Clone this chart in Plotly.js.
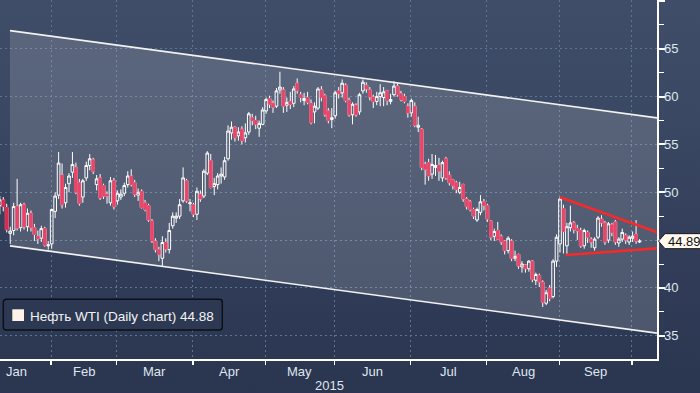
<!DOCTYPE html>
<html><head><meta charset="utf-8">
<script src="https://cdn.plot.ly/plotly-3.0.1.min.js"></script>
<style>
html,body{margin:0;padding:0;}
body{width:700px;height:393px;overflow:hidden;background:linear-gradient(to bottom,#404d68 0%,#3b4863 30%,#323e59 65%,#2a3550 100%);}
#chart{width:700px;height:393px;}
</style></head><body><div id="chart"></div>
<script>
// Trading days shown (index 4 = 8 Jan 2015 in the trading-day count of 2015)
const firstDayIndex = 4;
const dates = [
'2015-01-08','2015-01-09','2015-01-12','2015-01-13','2015-01-14','2015-01-15','2015-01-16','2015-01-20','2015-01-21','2015-01-22','2015-01-23','2015-01-26','2015-01-27','2015-01-28','2015-01-29','2015-01-30',
'2015-02-02','2015-02-03','2015-02-04','2015-02-05','2015-02-06','2015-02-09','2015-02-10','2015-02-11','2015-02-12','2015-02-13','2015-02-17','2015-02-18','2015-02-19','2015-02-20','2015-02-23','2015-02-24','2015-02-25','2015-02-26','2015-02-27',
'2015-03-02','2015-03-03','2015-03-04','2015-03-05','2015-03-06','2015-03-09','2015-03-10','2015-03-11','2015-03-12','2015-03-13','2015-03-16','2015-03-17','2015-03-18','2015-03-19','2015-03-20','2015-03-23','2015-03-24','2015-03-25','2015-03-26','2015-03-27','2015-03-30','2015-03-31',
'2015-04-01','2015-04-02','2015-04-06','2015-04-07','2015-04-08','2015-04-09','2015-04-10','2015-04-13','2015-04-14','2015-04-15','2015-04-16','2015-04-17','2015-04-20','2015-04-21','2015-04-22','2015-04-23','2015-04-24','2015-04-27','2015-04-28','2015-04-29','2015-04-30',
'2015-05-01','2015-05-04','2015-05-05','2015-05-06','2015-05-07','2015-05-08','2015-05-11','2015-05-12','2015-05-13','2015-05-14','2015-05-15','2015-05-18','2015-05-19','2015-05-20','2015-05-21','2015-05-22','2015-05-26','2015-05-27','2015-05-28','2015-05-29',
'2015-06-01','2015-06-02','2015-06-03','2015-06-04','2015-06-05','2015-06-08','2015-06-09','2015-06-10','2015-06-11','2015-06-12','2015-06-15','2015-06-16','2015-06-17','2015-06-18','2015-06-19','2015-06-22','2015-06-23','2015-06-24','2015-06-25','2015-06-26','2015-06-29','2015-06-30',
'2015-07-01','2015-07-02','2015-07-06','2015-07-07','2015-07-08','2015-07-09','2015-07-10','2015-07-13','2015-07-14','2015-07-15','2015-07-16','2015-07-17','2015-07-20','2015-07-21','2015-07-22','2015-07-23','2015-07-24','2015-07-27','2015-07-28','2015-07-29','2015-07-30','2015-07-31',
'2015-08-03','2015-08-04','2015-08-05','2015-08-06','2015-08-07','2015-08-10','2015-08-11','2015-08-12','2015-08-13','2015-08-14','2015-08-17','2015-08-18','2015-08-19','2015-08-20','2015-08-21','2015-08-24','2015-08-25','2015-08-26','2015-08-27','2015-08-28','2015-08-31',
'2015-09-01','2015-09-02','2015-09-03','2015-09-04','2015-09-08','2015-09-09','2015-09-10','2015-09-11','2015-09-14','2015-09-15','2015-09-16','2015-09-17','2015-09-18','2015-09-21','2015-09-22','2015-09-23','2015-09-24','2015-09-25','2015-09-28','2015-09-29','2015-09-30',
'2015-10-01','2015-10-02'];

const openP = [
48.6,49.2,48.4,45.7,46.0,48.5,46.3,48.7,46.4,47.8,46.3,45.4,45.2,46.2,44.4,44.6,
48.0,49.7,51.8,48.9,50.9,52.1,52.6,51.0,49.5,51.5,52.8,53.4,50.8,51.5,50.7,49.8,48.9,51.2,49.1,
49.5,49.9,50.8,51.7,51.0,49.7,50.1,48.9,48.6,47.0,44.9,44.0,43.1,44.75,44.0,46.5,47.3,47.5,49.1,51.2,48.8,48.7,
47.7,49.8,49.6,52.0,53.3,50.6,50.8,51.7,51.6,53.5,56.2,56.8,55.9,56.6,55.7,56.3,57.8,57.5,56.7,57.1,58.5,
59.8,59.3,59.0,60.7,60.7,59.1,59.5,59.3,61.4,60.2,59.6,59.9,59.3,58.4,58.8,60.7,60.1,58.5,57.6,58.0,
60.6,60.4,61.2,59.6,58.1,59.1,58.4,60.6,61.2,60.7,59.95,59.5,60.0,59.9,60.6,59.5,60.2,61.1,60.3,60.0,59.0,58.3,
59.0,56.8,56.6,52.9,53.1,51.9,52.6,52.8,51.5,53.5,51.8,51.3,51.0,50.0,50.8,49.3,49.0,48.2,47.1,47.9,49.0,48.6,
47.0,45.4,46.0,45.4,44.9,43.9,44.9,43.1,43.5,42.2,42.4,42.0,42.8,40.8,41.3,40.6,38.4,40.0,39.1,42.8,44.6,
48.3,44.4,46.3,46.8,46.2,46.0,44.4,45.8,45.1,44.2,45.3,47.2,46.8,45.0,46.6,46.9,44.7,45.1,45.5,44.8,45.2,
45.6,44.8];
const highP = [
49.6,49.5,48.8,46.4,48.9,51.4,48.9,48.9,48.3,48.1,46.7,46.0,46.5,46.4,44.9,48.3,
50.0,54.2,53.0,50.9,52.0,54.2,53.1,51.4,51.4,53.2,54.0,53.6,51.8,51.9,50.9,50.1,51.6,51.5,50.2,
50.3,51.0,52.2,52.4,51.3,50.4,50.3,49.2,48.8,47.2,45.2,44.3,45.4,45.2,46.8,47.9,47.9,49.3,52.6,51.4,49.3,48.9,
50.5,50.2,52.4,54.3,54.0,51.5,52.0,52.6,53.7,57.0,57.4,56.9,56.8,56.9,57.2,58.4,58.2,58.0,57.5,58.9,59.9,
60.1,59.6,60.9,62.6,61.0,59.9,60.5,61.1,61.9,60.5,60.4,60.5,59.7,59.4,61.0,61.1,60.3,58.8,58.8,60.6,
61.0,61.8,61.4,59.9,59.4,59.3,60.4,61.8,61.5,61.0,60.2,60.5,61.3,61.0,60.7,60.3,61.6,61.4,60.6,60.3,59.3,59.8,
59.4,57.9,56.7,53.2,53.5,54.0,53.9,53.6,53.3,53.7,52.2,51.4,51.2,51.1,50.9,49.5,49.2,48.4,48.4,49.7,49.3,48.8,
47.1,46.2,46.9,45.6,45.0,45.4,45.1,43.9,43.6,42.8,42.5,42.9,42.9,41.6,41.5,40.8,39.8,40.3,43.0,45.6,49.5,
48.7,46.8,48.6,47.0,46.6,46.3,46.2,46.0,45.3,45.3,47.5,47.6,47.0,46.9,46.8,47.1,45.3,46.2,45.7,45.5,45.9,
47.1,45.1];
const lowP = [
47.7,48.0,45.8,44.6,45.5,46.0,45.9,46.1,45.9,45.9,44.9,44.6,44.8,44.3,44.0,44.1,
47.3,49.3,48.3,48.4,50.0,51.5,49.8,48.6,48.9,51.2,52.3,51.9,50.2,49.2,49.3,48.8,48.6,48.2,48.7,
49.2,49.6,50.5,50.6,49.5,49.1,48.3,48.0,46.9,44.7,43.7,42.8,42.3,43.7,43.6,46.2,46.8,47.2,48.9,48.9,48.0,47.4,
47.1,49.0,49.4,51.8,50.4,49.7,50.3,50.9,51.3,53.3,55.5,55.3,55.4,55.0,55.2,56.0,57.0,56.6,55.8,57.0,58.2,
58.8,58.3,58.8,60.3,58.3,58.4,58.7,58.9,60.3,59.4,59.1,59.2,57.1,57.2,58.6,59.5,57.9,57.2,56.7,57.7,
59.8,59.9,59.4,57.9,57.1,57.9,58.1,60.3,60.4,59.6,58.8,59.1,59.0,59.0,59.1,59.2,60.0,60.0,59.5,59.3,57.8,57.9,
56.8,56.3,52.3,50.8,51.2,51.4,51.7,51.2,51.1,51.3,50.7,50.3,49.9,49.8,49.0,48.2,48.0,47.2,46.9,47.6,48.1,46.9,
45.0,44.9,45.0,44.5,43.5,43.6,42.8,42.8,42.0,41.6,41.6,41.7,40.6,40.3,40.1,38.0,38.2,38.6,38.9,42.2,43.7,
43.6,43.4,45.9,45.7,45.0,44.2,44.1,44.7,44.2,43.9,45.1,46.4,44.5,44.7,45.4,44.5,44.3,44.8,44.6,44.5,44.8,
44.6,44.7];
const closeP = [
49.2,48.5,46.1,45.95,48.5,46.25,48.7,46.4,47.8,46.3,45.6,45.15,46.2,44.45,44.5,48.2,
49.6,53.05,48.7,50.5,51.7,52.9,50.0,48.85,51.2,52.8,53.5,52.2,51.4,49.4,49.6,49.6,51.2,48.5,49.9,
49.8,50.7,51.7,50.8,49.8,50.0,48.4,48.2,47.1,44.9,44.0,43.5,44.75,44.05,46.0,47.5,47.5,48.7,51.5,49.1,48.9,47.7,
50.1,49.3,52.2,54.1,50.5,50.9,51.7,51.9,53.3,56.4,56.8,55.7,56.3,55.4,56.2,58.2,57.5,57.1,57.2,58.6,59.7,
59.2,58.9,60.6,61.0,59.0,59.4,59.2,60.8,60.6,59.9,59.8,59.4,57.3,59.0,60.8,59.9,58.1,57.5,57.8,60.4,
60.3,61.4,59.6,58.1,59.2,58.1,60.2,61.5,60.8,59.95,59.5,60.0,60.4,60.5,59.6,59.7,61.1,60.2,59.7,59.5,58.3,59.6,
57.0,57.0,52.6,52.4,51.7,52.9,52.8,52.2,53.1,51.5,51.0,50.7,50.3,50.5,49.3,48.5,48.2,47.5,48.2,49.0,48.6,47.2,
45.3,45.9,45.1,44.8,43.9,45.2,43.1,43.3,42.3,42.5,42.0,42.8,40.9,41.4,40.6,38.5,39.5,38.9,42.8,45.3,49.3,
45.9,46.4,46.8,46.1,45.95,44.4,46.0,45.3,44.8,45.1,47.3,46.8,44.8,46.7,45.8,44.8,45.1,45.8,45.0,45.3,45.4,
44.9,44.89];

// Axis ticks and labels (trading-day positions)
const monthTicks = [18.8, 37.8, 59.8, 80.8, 100.8, 122.8, 144.8, 165.8, 186.8];
const monthLabels = ['Jan','Feb','Mar','Apr','May','Jun','Jul','Aug','Sep'];
const monthLabelPos = [8.7, 28.3, 48.8, 70.3, 90.8, 111.8, 133.8, 155.3, 176.3];
const yearLabel = '2015';
const yearLabelPos = 99.2;
const yTicks = [35, 40, 45, 50, 55, 60, 65, 70];
const yTickText = ['35', '40', '', '50', '55', '60', '65', ''];

// Trend channel and triangle (drawn lines)
const channelX = [6.94, 194.05];
const channelUpper = [66.9, 57.78];
const channelLower = [44.4, 35.28];
const triUpperX = [166.0, 194.05];
const triUpperY = [49.48, 45.83];
const triLowerX = [167.64, 194.05];
const triLowerY = [43.44, 44.14];

const legendLabel = 'Нефть WTI (Daily chart)';
const legendValue = 44.88;
const lastPrice = 44.89;

const xs = dates.map((d, i) => firstDayIndex + i);
const bodyHigh = openP.map((o, i) => Math.max(o, closeP[i]));
const bodyLow = openP.map((o, i) => Math.min(o, closeP[i]));

const RED = '#e3264f';
const FONT = 'Liberation Sans, Arial, sans-serif';
const GRID = '#5a7792';

const traces = [
  {type:'scatter', mode:'lines', x:[channelX[0], channelX[1], channelX[1], channelX[0]],
   y:[channelUpper[0], channelUpper[1], channelLower[1], channelLower[0]],
   fill:'toself', fillcolor:'rgba(255,255,255,0.15)', line:{width:0}, hoverinfo:'skip'},
  {type:'scatter', mode:'lines', x:channelX, y:channelUpper, line:{color:'#f2f2f2', width:1.7}, hoverinfo:'skip'},
  {type:'scatter', mode:'lines', x:channelX, y:channelLower, line:{color:'#f2f2f2', width:1.7}, hoverinfo:'skip'},
  {type:'candlestick', x:xs, open:openP, high:highP, low:lowP, close:closeP, text:dates,
   increasing:{line:{color:'#ffffff', width:1}, fillcolor:'rgba(0,0,0,0)'},
   decreasing:{line:{color:'#ffffff', width:1}, fillcolor:RED},
   whiskerwidth:0, hoverinfo:'skip'},
  {type:'candlestick', x:xs, open:openP, high:bodyHigh, low:bodyLow, close:closeP,
   increasing:{line:{color:'rgba(0,0,0,0)', width:1}, fillcolor:'rgba(0,0,0,0)'},
   decreasing:{line:{color:RED, width:1}, fillcolor:RED},
   whiskerwidth:0, hoverinfo:'skip'},
  {type:'scatter', mode:'lines', x:triUpperX, y:triUpperY, line:{color:'#f22b2b', width:2.6}, hoverinfo:'skip'},
  {type:'scatter', mode:'lines', x:triLowerX, y:triLowerY, line:{color:'#f22b2b', width:2.6}, hoverinfo:'skip'}
];

const annotations = monthLabels.map((m, i) => ({
  xref:'x', yref:'paper', x:monthLabelPos[i], y:0, yanchor:'top', yshift:-3,
  text:m, showarrow:false, font:{family:FONT, size:13, color:'#dfe6ef'}
}));
annotations.push({xref:'x', yref:'paper', x:yearLabelPos, y:0, yanchor:'top', yshift:-17,
  text:yearLabel, showarrow:false, font:{family:FONT, size:13, color:'#dfe6ef'}});
annotations.push({xref:'paper', yref:'paper', x:0, xshift:28, xanchor:'left', y:0, yshift:43, yanchor:'middle',
  text:legendLabel + ' ' + legendValue.toFixed(2), showarrow:false, font:{family:FONT, size:13.5, color:'#f3f3f3'}});
annotations.push({xref:'paper', yref:'y', x:1, xshift:9, xanchor:'left', y:lastPrice, yanchor:'middle',
  text:lastPrice.toFixed(2), showarrow:false, font:{family:FONT, size:13, color:'#111111'}});

const shapes = [
  {type:'path', xref:'paper', yref:'paper', xsizemode:'pixel', ysizemode:'pixel', xanchor:0, yanchor:0,
   path:'M 6.3,29 L 219.3,29 Q 222.3,29 222.3,32 L 222.3,56.7 Q 222.3,59.7 219.3,59.7 L 6.3,59.7 Q 3.3,59.7 3.3,56.7 L 3.3,32 Q 3.3,29 6.3,29 Z',
   fillcolor:'#2d3953', line:{color:'#0b1019', width:1.5}},
  {type:'path', xref:'paper', yref:'paper', xsizemode:'pixel', ysizemode:'pixel', xanchor:0, yanchor:0,
   path:'M 12.3,38 L 24,38 L 24,49.7 L 12.3,49.7 Z', fillcolor:'#fff3e8', line:{width:0}},
  {type:'path', xref:'paper', yref:'y', xsizemode:'pixel', ysizemode:'pixel', xanchor:1, yanchor:lastPrice,
   path:'M 1.5,0 L 8,7.5 L 46,7.5 L 46,-7.5 L 8,-7.5 Z', fillcolor:'#fff9f0', line:{color:'#1a1a1a', width:1}}
];

const layout = {
  width:700, height:393,
  margin:{l:0, r:43, t:0, b:34, pad:0},
  paper_bgcolor:'rgba(0,0,0,0)', plot_bgcolor:'rgba(0,0,0,0)',
  showlegend:false, hovermode:false,
  boxgap:0.12, boxgroupgap:0.12,
  xaxis:{type:'linear', range:[4.05, 194.05], tickmode:'array', tickvals:monthTicks,
    showticklabels:false, ticks:'outside', ticklen:4, tickwidth:1.5, tickcolor:'#ffffff',
    showgrid:true, gridcolor:GRID, griddash:'2px,3px', gridwidth:1,
    showline:true, linecolor:'#ffffff', linewidth:1.5, zeroline:false,
    rangeslider:{visible:false}, fixedrange:true},
  yaxis:{side:'right', range:[32.57, 70.1], tickmode:'array', tickvals:yTicks, ticktext:yTickText,
    ticks:'outside', ticklen:6, tickwidth:2, tickcolor:'#ffffff', ticklabelstandoff:-3,
    showgrid:true, gridcolor:GRID, griddash:'2px,3px', gridwidth:1,
    showline:true, linecolor:'#ffffff', linewidth:1.5, zeroline:false,
    tickfont:{family:FONT, size:13, color:'#dfe7f1'},
    minor:{tickmode:'linear', tick0:37.5, dtick:5, ticks:'outside', ticklen:5, tickwidth:1, tickcolor:'#ffffff', showgrid:false},
    fixedrange:true},
  annotations:annotations,
  shapes:shapes
};

Plotly.newPlot('chart', traces, layout, {displayModeBar:false, staticPlot:true});
</script>
</body></html>
